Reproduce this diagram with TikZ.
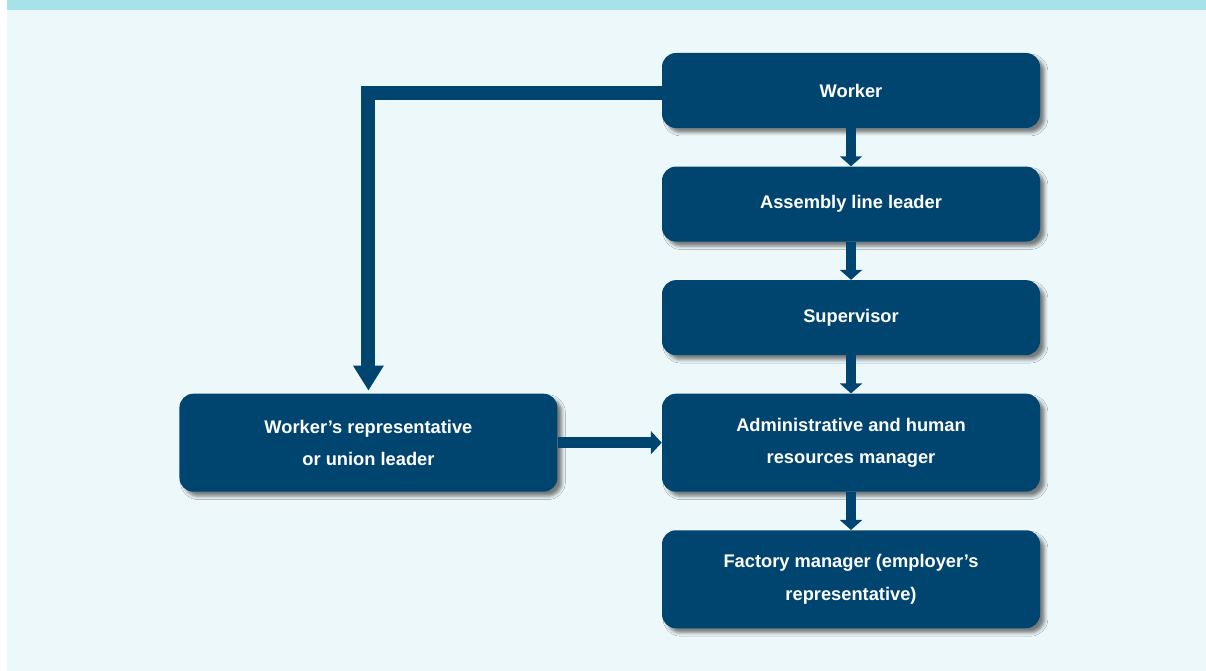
\documentclass[tikz,border=0pt]{standalone}
\usepackage{xcolor}
\usepackage{fontspec}
\setmainfont{Liberation Sans}
\usepackage{tikz}
\usetikzlibrary{arrows.meta, positioning, shadows.blur}
\definecolor{boxblue}{RGB}{0,68,112}
\definecolor{pagebg}{RGB}{237,248,250}
\definecolor{topband}{RGB}{166,226,232}
\tikzset{
  role/.style   = {rectangle, rounded corners=0.35cm, fill=boxblue,
                   text=white, minimum width=9.45cm, minimum height=1.875cm,
                   align=center, inner sep=0pt,
                   font=\bfseries\fontsize{13}{23}\selectfont,
                   blur shadow={shadow xshift=3.2pt, shadow yshift=-3.2pt,
                                shadow blur radius=2.4pt, shadow opacity=50}},
  tallrole/.style = {role, minimum height=2.45cm},
  up/.style     = {-{Triangle[length=7.1pt, width=15.6pt]},
                   line width=7.8pt, draw=boxblue},
  side/.style   = {-{Triangle[length=7.8pt, width=16.3pt]},
                   line width=7.8pt, draw=boxblue},
  escal/.style  = {-{Triangle[length=17.7pt, width=20.6pt]},
                   line width=9.9pt, draw=boxblue, shorten >=2pt},
}

\begin{document}
\begin{tikzpicture}[node distance=0.95cm]
  % page background
  \useasboundingbox (0,0) rectangle (30.15,-16.775);
  \fill[pagebg] (0.175,0) rectangle (30.15,-16.775);
  \fill[topband] (0.175,0) rectangle (30.15,-0.25);

  % chain of command
  \node[role] (wrk) at (21.275,-2.2625) {Worker};
  \node[role, below=of wrk] (lead) {Assembly line leader};
  \node[role, below=of lead] (sup) {Supervisor};
  \node[tallrole, below=of sup] (hr) {Administrative and human\\resources manager};
  \node[tallrole, below=of hr] (fac) {Factory manager (employer's\\representative)};
  \node[tallrole, left=2.6cm of hr] (rep) {Worker's representative\\or union leader};

  \draw[up] (wrk) -- (lead);
  \draw[up] (lead) -- (sup);
  \draw[up] (sup) -- (hr);
  \draw[up] (hr) -- (fac);

  % side route through the union
  \draw[escal] ([yshift=-1.5pt]wrk.west) -| (rep.north);
  \draw[side] (rep) -- (hr);
\end{tikzpicture}
\end{document}
